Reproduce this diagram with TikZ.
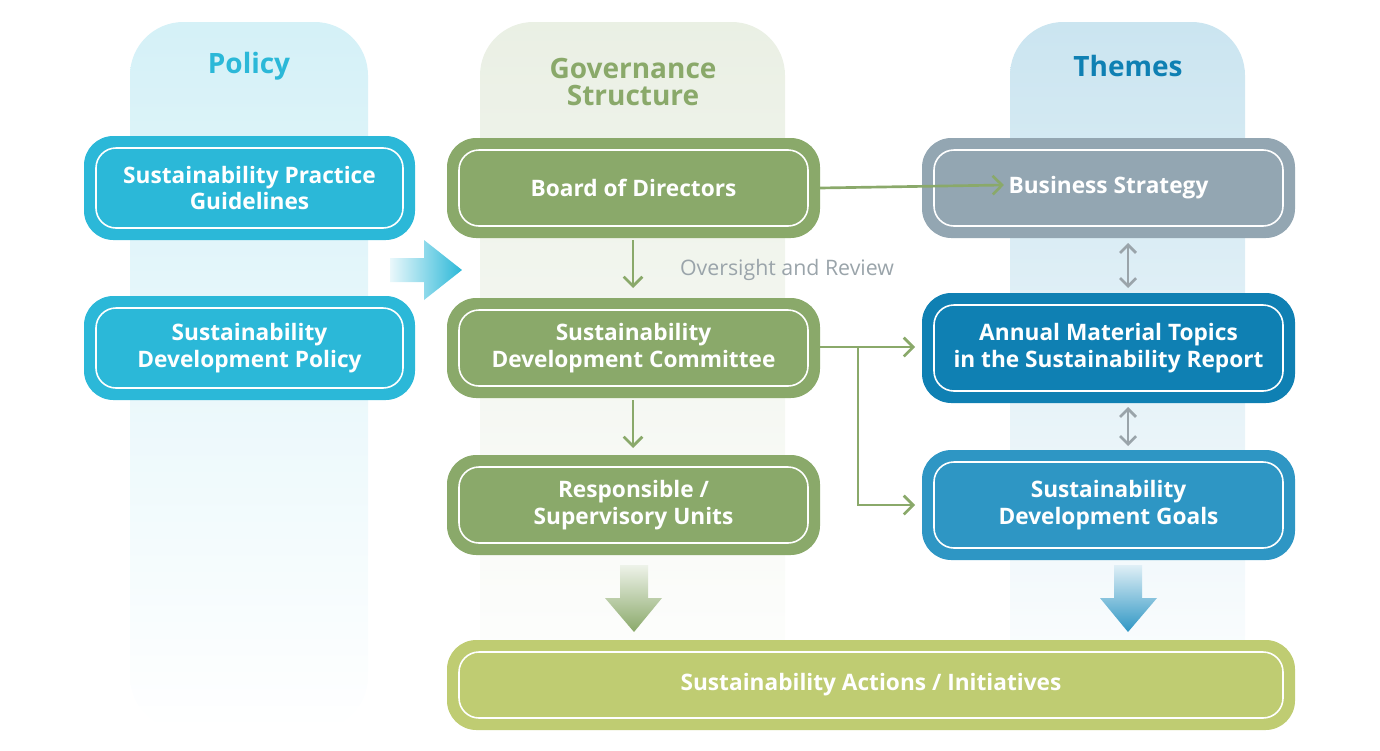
\documentclass[tikz,border=0pt]{standalone}
\usepackage{fontspec}
\setmainfont{Open Sans}
\usetikzlibrary{arrows.meta,shadings}
\definecolor{pol}{HTML}{2BB8D8}
\definecolor{gov}{HTML}{8AA96A}
\definecolor{bus}{HTML}{93A6B2}
\definecolor{ann}{HTML}{0F80B3}
\definecolor{sdg}{HTML}{2E96C4}
\definecolor{act}{HTML}{BFCC72}
\definecolor{ovr}{HTML}{9AA4AA}
\begin{document}
\begin{tikzpicture}[x=0.75pt,y=-0.75pt,
  box/.style={rounded corners=22pt,fill=#1,draw=none},
  inner/.style={rounded corners=15pt,draw=white,line width=1.2pt},
  lab/.style={text=white,font=\fontsize{17}{20}\selectfont\bfseries,align=center},
  head/.style={font=\fontsize{21}{23}\selectfont\bfseries,align=center},
  thin/.style={-{Straight Barb[length=7pt,width=14pt]},line width=2pt,draw=gov},
  dbl/.style={{Straight Barb[length=6pt,width=12pt]}-{Straight Barb[length=6pt,width=12pt]},line width=2pt,draw=ovr}]
\useasboundingbox (0,0) rectangle (1380,750);
% columns
\shade[top color=pol!20,bottom color=white,rounded corners=40pt] (130,22) rectangle (368,730);
\shade[top color=gov!18,bottom color=white,rounded corners=40pt] (480,22) rectangle (785,730);
\shade[top color=sdg!25,bottom color=white,rounded corners=40pt] (1010,22) rectangle (1245,730);
\node[head,text=pol] (hp) at (249,66) {Policy};
\node[head,text=gov] (hg) at (633,82) {Governance\\[-3pt]Structure};
\node[head,text=ann] (ht) at (1128,66) {Themes};
% box macro
\newcommand\mybox[7]{%
 \fill[box=#5] (#1,#2) rectangle (#3,#4);
 \draw[inner] (#1+12,#2+12) rectangle (#3-12,#4-12);
 \node[lab] (#6) at ({(#1+#3)/2},{(#2+#4)/2}) {#7};}
\mybox{84}{136}{415}{240}{pol}{p1}{Sustainability Practice\\Guidelines}
\mybox{84}{296}{415}{400}{pol}{p2}{Sustainability\\Development Policy}
\mybox{447}{138}{820}{238}{gov}{g1}{Board of Directors}
\mybox{447}{298}{820}{398}{gov}{g2}{Sustainability\\Development Committee}
\mybox{447}{455}{820}{555}{gov}{g3}{Responsible /\\Supervisory Units}
\mybox{922}{138}{1295}{238}{bus}{t1}{Business Strategy}
\mybox{922}{293}{1295}{403}{ann}{t2}{Annual Material Topics\\in the Sustainability Report}
\mybox{922}{450}{1295}{560}{sdg}{t3}{Sustainability\\Development Goals}
\mybox{447}{640}{1295}{730}{act}{a1}{Sustainability Actions / Initiatives}
% big arrows
\shade[left color=pol!10,right color=pol] (390,258) -- (424,258) -- (424,240) -- (462,270) -- (424,300) -- (424,282) -- (390,282) -- cycle;
\shade[top color=gov!15,bottom color=gov] (620,565) -- (648,565) -- (648,598) -- (662,598) -- (634,632) -- (605,598) -- (620,598) -- cycle;
\shade[top color=sdg!15,bottom color=sdg] (1114,565) -- (1142,565) -- (1142,598) -- (1157,598) -- (1128,632) -- (1100,598) -- (1114,598) -- cycle;
% small arrows
\draw[thin] (g1.east -| 820,185) -- (t1.west |- 0,185);
\draw[thin] (633,240) -- (633,288);
\draw[thin] (633,400) -- (633,448);
\draw[thin] (820,347) -- (915,347);
\draw[thin] (858,347) -- (858,505) -- (915,505);
\node[text=ovr,font=\fontsize{16}{18}\selectfont] (ov) at (787,270) {Oversight and Review};
\draw[dbl] (1128,243) -- (1128,288);
\draw[dbl] (1128,407) -- (1128,446);
\end{tikzpicture}
\end{document}
